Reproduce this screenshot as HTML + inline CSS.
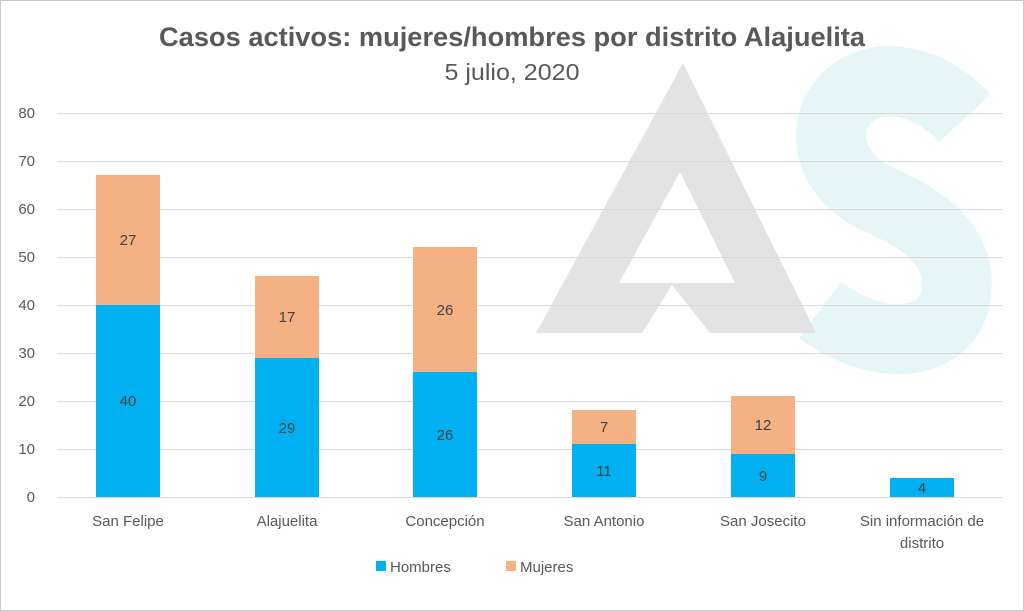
<!DOCTYPE html>
<html><head><meta charset="utf-8"><style>
body{margin:0;background:#fff}
svg{display:block;font-family:"Liberation Sans",Calibri,sans-serif}
</style></head><body>
<svg width="1024" height="611" viewBox="0 0 1024 611">
<rect x="0.5" y="0.5" width="1023" height="610" fill="#fff" stroke="#c8c8c8"/>
<path d="M965,118 C930,80 880,70 850,95 C815,125 830,180 880,200 C930,222 965,250 955,300 C945,345 880,355 820,310" fill="none" stroke="#e6f6f7" stroke-width="70"/>
<path fill-rule="evenodd" fill="#e3e3e3" d="M536,333 L683,63 L816,333 L710,333 L672,285 L642,333 Z M680,172 L735,283 L619,283 Z"/>
<g stroke="#d9d9d9" stroke-width="1">
<line x1="57" x2="1002" y1="113.5" y2="113.5"/><line x1="57" x2="1002" y1="161.5" y2="161.5"/>
<line x1="57" x2="1002" y1="209.5" y2="209.5"/><line x1="57" x2="1002" y1="257.5" y2="257.5"/>
<line x1="57" x2="1002" y1="305.5" y2="305.5"/><line x1="57" x2="1002" y1="353.5" y2="353.5"/>
<line x1="57" x2="1002" y1="401.5" y2="401.5"/><line x1="57" x2="1002" y1="449.5" y2="449.5"/>
<line x1="57" x2="1002" y1="497.5" y2="497.5"/>
</g>
<g font-size="15" fill="#595959" text-anchor="end">
<text x="35" y="118">80</text><text x="35" y="166">70</text><text x="35" y="214">60</text>
<text x="35" y="262">50</text><text x="35" y="310">40</text><text x="35" y="358">30</text>
<text x="35" y="406">20</text><text x="35" y="454">10</text><text x="35" y="502">0</text>
</g>
<g fill="#00b0f0">
<rect x="96" y="305" width="64" height="192"/><rect x="255" y="358" width="64" height="139"/>
<rect x="413" y="372" width="64" height="125"/><rect x="572" y="444" width="64" height="53"/>
<rect x="731" y="454" width="64" height="43"/><rect x="890" y="478" width="64" height="19"/>
</g>
<g fill="#f4b183">
<rect x="96" y="175" width="64" height="130"/><rect x="255" y="276" width="64" height="82"/>
<rect x="413" y="247" width="64" height="125"/><rect x="572" y="410" width="64" height="34"/>
<rect x="731" y="396" width="64" height="58"/>
</g>
<g font-size="15" fill="#404040" text-anchor="middle">
<text x="128" y="406">40</text><text x="128" y="245">27</text>
<text x="287" y="433">29</text><text x="287" y="322">17</text>
<text x="445" y="440">26</text><text x="445" y="315">26</text>
<text x="604" y="476">11</text><text x="604" y="432">7</text>
<text x="763" y="481">9</text><text x="763" y="430">12</text>
<text x="922" y="493">4</text>
</g>
<g font-size="15" fill="#595959" text-anchor="middle">
<text x="128" y="526">San Felipe</text><text x="287" y="526">Alajuelita</text>
<text x="445" y="526">Concepción</text><text x="604" y="526">San Antonio</text>
<text x="763" y="526">San Josecito</text><text x="922" y="526">Sin información de</text>
<text x="922" y="548">distrito</text>
</g>
<rect x="376" y="561" width="10" height="10" fill="#00b0f0"/>
<text x="390" y="572" font-size="15" fill="#595959">Hombres</text>
<rect x="506" y="561" width="10" height="10" fill="#f4b183"/>
<text x="520" y="572" font-size="15" fill="#595959">Mujeres</text>
<text x="512" y="46" font-size="26.5" font-weight="bold" fill="#595959" text-anchor="middle" textLength="706" lengthAdjust="spacingAndGlyphs">Casos activos: mujeres/hombres por distrito Alajuelita</text>
<text x="512" y="80" font-size="23" fill="#595959" text-anchor="middle" textLength="135" lengthAdjust="spacingAndGlyphs">5 julio, 2020</text>
</svg>
</body></html>
